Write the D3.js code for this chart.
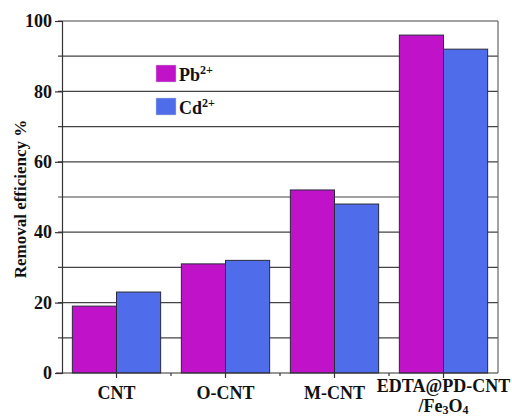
<!DOCTYPE html>
<html>
<head>
<meta charset="utf-8">
<script src="https://cdn.jsdelivr.net/npm/d3@7"></script>
<style>
  html, body { margin: 0; padding: 0; background: #fff; }
  svg { display: block; }
  text { font-family: "Liberation Serif", "Times New Roman", serif; font-weight: bold; fill: #111; }
</style>
</head>
<body>
<svg id="chart" width="512" height="417"></svg>
<script>
// Removal efficiency (%) per adsorbent for two metal ions
const categories = ["CNT", "O-CNT", "M-CNT", "EDTA@PD-CNT/Fe3O4"];
const seriesNames = ["Pb", "Cd"];
const pbValues = [19, 31, 52, 96];
const cdValues = [23, 32, 48, 92];
const yTicks = [0, 20, 40, 60, 80, 100];
const yGrid = [10, 20, 30, 40, 50, 60, 70, 80, 90, 100];

const colors = { Pb: "#BF12C9", Cd: "#4F6DEA" };
const seriesValues = { Pb: pbValues, Cd: cdValues };

const svg = d3.select("#chart");
const margin = { left: 62, right: 14, top: 21, bottom: 44 };
const W = 512, H = 417;
const x0 = margin.left, x1 = W - margin.right;
const yTop = margin.top, yBot = H - margin.bottom;

const x = d3.scaleBand().domain(categories).range([x0, x1]).paddingInner(0.19).paddingOuter(0.095);
const xs = d3.scaleBand().domain(seriesNames).range([0, x.bandwidth()]);
const y = d3.scaleLinear().domain([0, 100]).range([yBot, yTop]);

// horizontal grid lines every 10
svg.append("g").selectAll("line").data(yGrid).join("line")
  .attr("x1", x0 - 4).attr("x2", x1)
  .attr("y1", d => y(d)).attr("y2", d => y(d))
  .attr("stroke", "#444").attr("stroke-width", 1.2);

// right frame
svg.append("line").attr("x1", x1).attr("x2", x1).attr("y1", yTop).attr("y2", yBot)
  .attr("stroke", "#666").attr("stroke-width", 1.2);

// bars
const groups = svg.append("g").selectAll("g").data(categories).join("g")
  .attr("transform", d => `translate(${x(d)},0)`);
groups.selectAll("rect")
  .data((c, i) => seriesNames.map(s => ({ s, v: seriesValues[s][i] })))
  .join("rect")
  .attr("x", d => xs(d.s))
  .attr("width", xs.bandwidth())
  .attr("y", d => y(d.v))
  .attr("height", d => y(0) - y(d.v))
  .attr("fill", d => colors[d.s])
  .attr("stroke", "#2a2a3a").attr("stroke-width", 1);

// y axis
const yAxis = d3.axisLeft(y).tickValues(yTicks).tickSize(7).tickPadding(3).tickFormat(d3.format("d"));
const gy = svg.append("g").attr("transform", `translate(${x0},0)`).call(yAxis);
gy.select(".domain").attr("stroke", "#333").attr("stroke-width", 1.2);
gy.selectAll(".tick line").attr("stroke", "#333").attr("stroke-width", 1.2);
gy.selectAll(".tick text").style("font-size", "18px").attr("font-family", null).attr("fill", null);

// x axis: ticks at category centers and minor ticks at boundaries
const gx = svg.append("g");
gx.append("line").attr("x1", x0 - 6).attr("x2", x1).attr("y1", yBot).attr("y2", yBot)
  .attr("stroke", "#333").attr("stroke-width", 1.2);
gx.selectAll("line.major").data(categories).join("line").attr("class", "major")
  .attr("x1", d => x(d) + x.bandwidth() / 2).attr("x2", d => x(d) + x.bandwidth() / 2)
  .attr("y1", yBot).attr("y2", yBot + 5).attr("stroke", "#333").attr("stroke-width", 1.2);
gx.selectAll("line.minor").data(categories.slice(1)).join("line").attr("class", "minor")
  .attr("x1", d => x(d) - x.step() * x.paddingInner() / 2).attr("x2", d => x(d) - x.step() * x.paddingInner() / 2)
  .attr("y1", yBot).attr("y2", yBot + 3).attr("stroke", "#333").attr("stroke-width", 1.2);

// category labels
categories.forEach(c => {
  const cx = x(c) + x.bandwidth() / 2;
  if (c.includes("/")) {
    const [a, b] = c.split("/");
    svg.append("text").attr("x", cx).attr("y", 392).attr("text-anchor", "middle")
      .style("font-size", "18px").text(a);
    const t = svg.append("text").attr("x", cx).attr("y", 412).attr("text-anchor", "middle")
      .style("font-size", "18px");
    t.append("tspan").text("/Fe");
    t.append("tspan").attr("dy", 2).style("font-size", "12px").text("3");
    t.append("tspan").attr("dy", -2).text("O");
    t.append("tspan").attr("dy", 2).style("font-size", "12px").text("4");
  } else {
    svg.append("text").attr("x", cx).attr("y", 399).attr("text-anchor", "middle")
      .style("font-size", "18px").text(c);
  }
});

// y axis title
svg.append("text")
  .attr("transform", `translate(26,199) rotate(-90)`)
  .attr("text-anchor", "middle")
  .style("font-size", "17px")
  .text("Removal efficiency %");

// legend
const legend = svg.append("g");
seriesNames.forEach((s, i) => {
  const ly = 65 + i * 33;
  legend.append("rect").attr("x", 156).attr("y", ly).attr("width", 20).attr("height", 17)
    .attr("fill", colors[s]).attr("stroke", "#ccc").attr("stroke-width", 0.5);
  const t = legend.append("text").attr("x", 179).attr("y", ly + 16).style("font-size", "18px");
  t.append("tspan").text(s);
  t.append("tspan").attr("dy", -7).style("font-size", "12px").text("2+");
});
</script>
</body>
</html>
